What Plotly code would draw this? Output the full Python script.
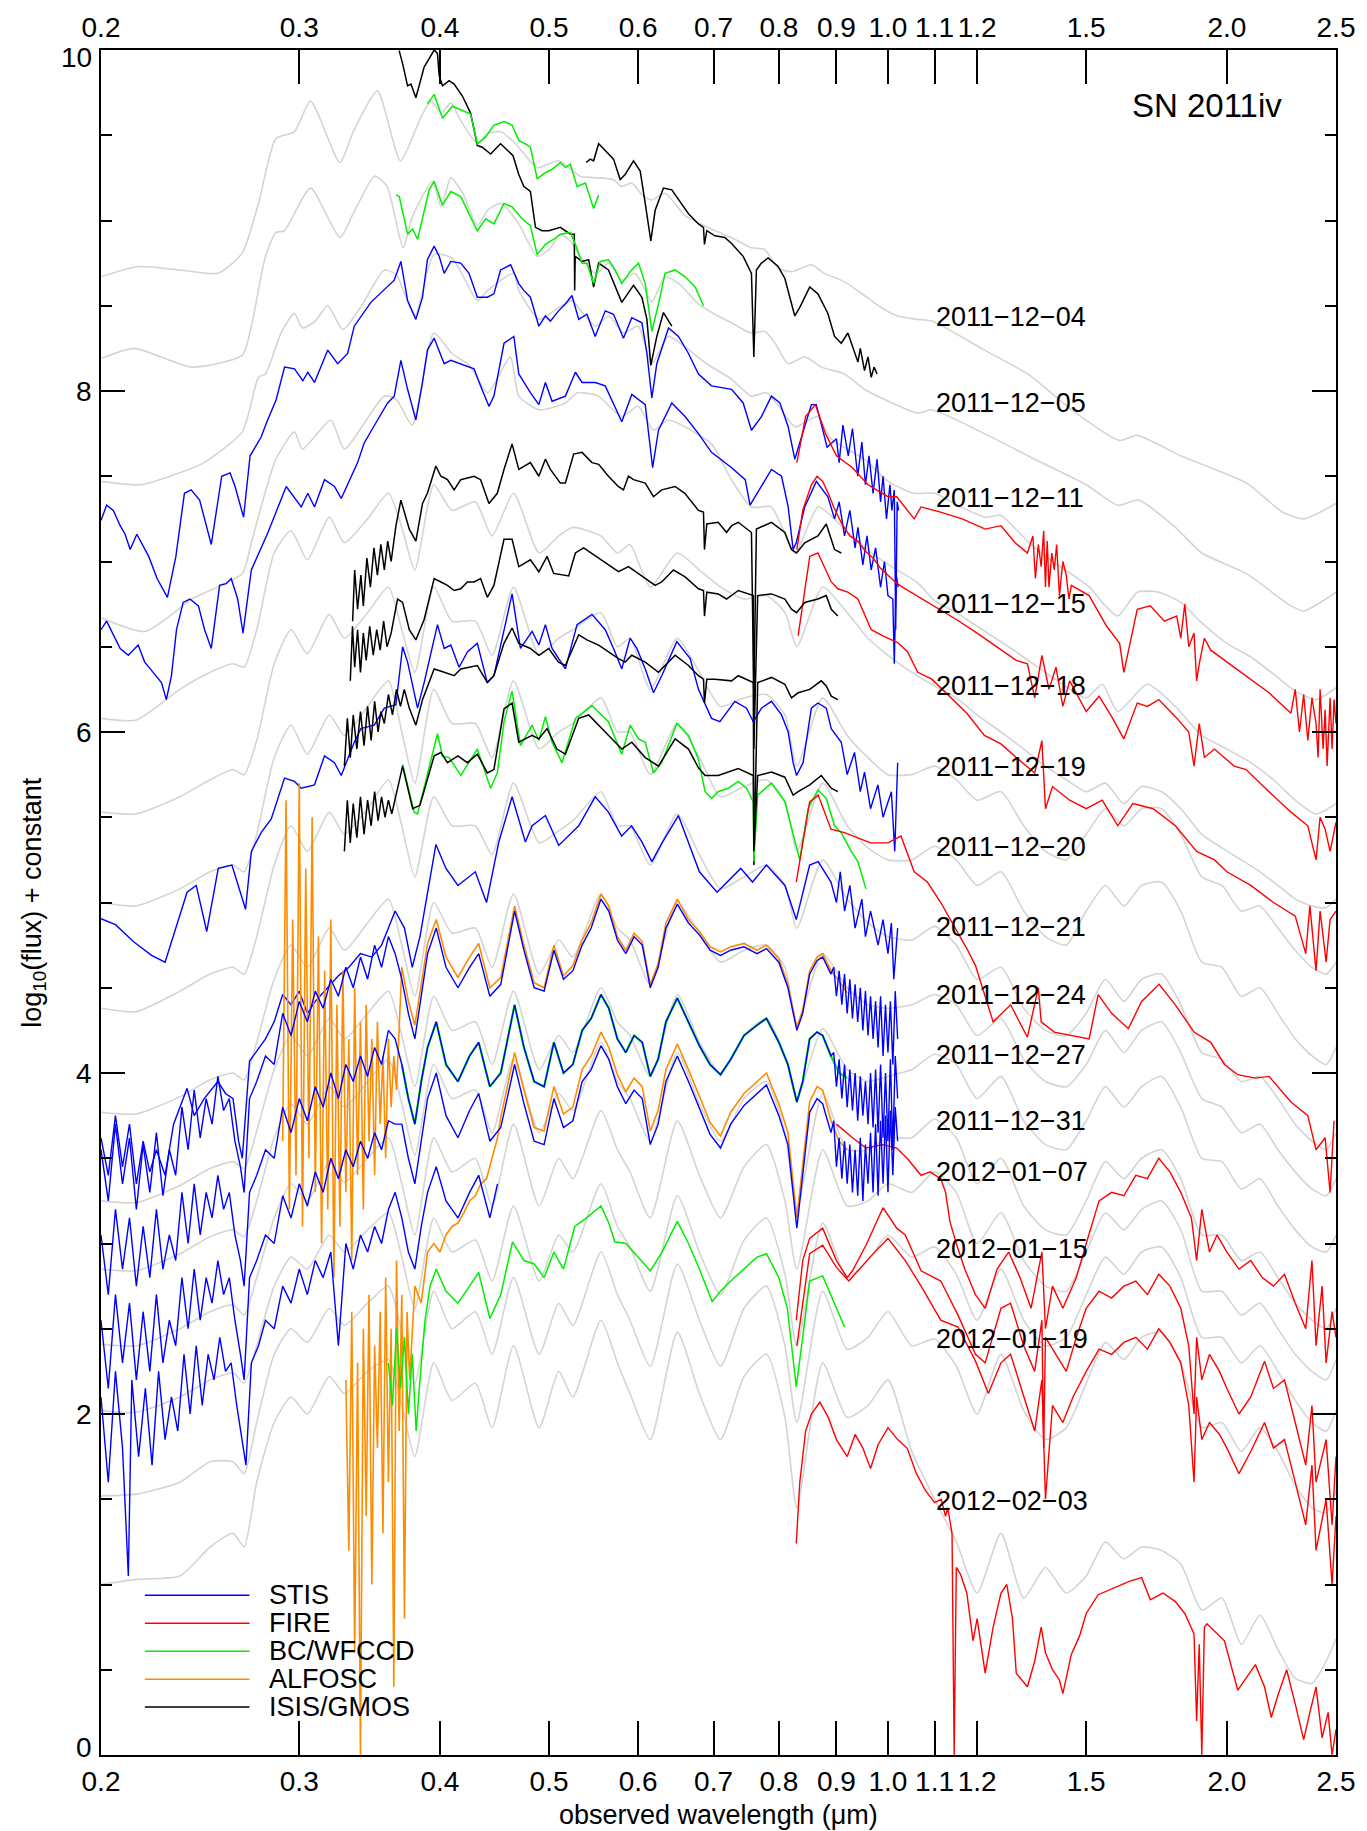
import math
import plotly.graph_objects as go

# ---------------- axis / label data ----------------
X_TICKS = [0.2, 0.3, 0.4, 0.5, 0.6, 0.7, 0.8, 0.9, 1.0, 1.1, 1.2, 1.5, 2.0, 2.5]
X_TICKTEXT = ['0.2', '0.3', '0.4', '0.5', '0.6', '0.7', '0.8', '0.9', '1.0', '1.1', '1.2', '1.5', '2.0', '2.5']
Y_TICKS = [0, 2, 4, 6, 8, 10]
Y_TICKTEXT = ['0', '2', '4', '6', '8', '10']
DATES = ['2011\u221212\u221204', '2011\u221212\u221205', '2011\u221212\u221211', '2011\u221212\u221215',
         '2011\u221212\u221218', '2011\u221212\u221219', '2011\u221212\u221220', '2011\u221212\u221221',
         '2011\u221212\u221224', '2011\u221212\u221227', '2011\u221212\u221231', '2012\u221201\u221207',
         '2012\u221201\u221215', '2012\u221201\u221219', '2012\u221202\u221203']
DATE_Y = [8.435, 7.93, 7.372, 6.748, 6.27, 5.792, 5.324, 4.856, 4.457, 4.106, 3.72, 3.42, 2.97, 2.438, 1.492]
DATE_X = 1.099
INSTRUMENTS = ['STIS', 'FIRE', 'BC/WFCCD', 'ALFOSC', 'ISIS/GMOS']

# ---------------- model spectra (gray) ----------------
M1_WL = [0.200,0.216,0.235,0.254,0.267,0.276,0.286,0.297,0.307,0.326,0.335,0.352,0.369,0.385,0.393,0.401,0.409,0.417,0.432,0.441,0.453,0.467,0.488,0.510,0.533,0.553,0.570,0.580,0.592,0.605,0.617,0.634,0.660,0.697,0.726,0.756,0.777,0.799,0.821,0.855,0.878,0.915,0.953,0.986,1.02,1.063,1.094,1.218,1.331,1.456,1.606,1.665,1.82,2.083,2.24,2.34,2.5]
M1_V = [8.67,8.73,8.71,8.69,8.81,9.10,9.48,9.52,9.70,9.34,9.52,9.76,9.35,9.61,9.70,9.63,9.69,9.59,9.45,9.51,9.52,9.45,9.31,9.35,9.26,9.25,9.24,9.20,9.22,9.15,9.12,9.16,9.03,8.95,8.90,8.84,8.83,8.72,8.70,8.74,8.69,8.64,8.56,8.49,8.44,8.42,8.41,8.24,8.10,7.89,7.71,7.74,7.62,7.46,7.29,7.25,7.34]

M2_WL = [0.200,0.214,0.241,0.267,0.272,0.280,0.286,0.291,0.307,0.326,0.335,0.350,0.359,0.371,0.378,0.394,0.401,0.409,0.419,0.432,0.441,0.453,0.470,0.488,0.500,0.512,0.522,0.533,0.550,0.565,0.580,0.596,0.609,0.617,0.634,0.652,0.679,0.702,0.726,0.756,0.777,0.794,0.815,0.844,0.873,0.915,0.953,0.993,1.063,1.094,1.218,1.35,1.50,1.60,1.67,1.80,1.90,2.08,2.28,2.34,2.5]
M2_V = [8.19,8.25,8.14,8.21,8.38,8.79,8.93,8.94,9.19,8.90,9.04,9.26,9.20,8.84,9.02,9.23,9.08,9.25,9.16,8.97,9.06,9.10,8.98,8.79,8.83,8.92,8.88,8.79,8.69,8.75,8.65,8.69,8.59,8.52,8.67,8.63,8.51,8.45,8.40,8.34,8.35,8.28,8.16,8.20,8.14,8.10,8.01,7.95,7.87,7.89,7.75,7.60,7.45,7.33,7.36,7.20,7.05,6.93,6.74,6.71,6.82]

M3_WL = [0.200,0.217,0.235,0.247,0.267,0.276,0.280,0.289,0.297,0.302,0.310,0.318,0.328,0.340,0.357,0.366,0.380,0.395,0.410,0.432,0.441,0.465,0.470,0.490,0.510,0.524,0.535,0.550,0.565,0.582,0.600,0.617,0.638,0.660,0.690,0.726,0.756,0.780,0.804,0.827,0.866,0.890,0.953,1.0,1.055,1.10,1.16,1.22,1.26,1.33,1.40,1.46,1.51,1.56,1.60,1.665,1.74,1.82,1.90,2.0,2.1,2.2,2.3,2.4,2.5]
M3_V = [7.47,7.45,7.52,7.58,7.76,8.08,8.10,8.34,8.455,8.37,8.41,8.50,8.36,8.49,8.71,8.68,8.44,8.80,8.78,8.53,8.59,8.69,8.59,8.42,8.49,8.53,8.46,8.38,8.44,8.34,8.38,8.16,8.32,8.26,8.16,8.07,7.97,7.99,7.89,7.79,7.85,7.72,7.60,7.47,7.40,7.40,7.32,7.26,7.27,7.12,7.00,6.92,6.85,6.74,6.68,6.82,6.82,6.76,6.64,6.52,6.44,6.34,6.24,6.19,6.26]

M4_WL = [0.200,0.219,0.241,0.267,0.272,0.278,0.286,0.297,0.302,0.320,0.329,0.357,0.366,0.378,0.395,0.410,0.425,0.441,0.462,0.470,0.490,0.517,0.530,0.553,0.580,0.600,0.619,0.638,0.660,0.697,0.726,0.756,0.788,0.827,0.867,0.928,0.966,1.007,1.063,1.10,1.15,1.20,1.30,1.40,1.50,1.55,1.60,1.70,1.80,1.90,2.00,2.10,2.20,2.30,2.40,2.50]
M4_V = [6.67,6.59,6.78,6.93,7.11,7.34,7.60,7.76,7.66,7.83,7.66,7.97,7.95,7.80,8.34,8.22,8.15,7.99,8.20,7.97,7.89,7.93,7.99,7.97,7.85,7.91,7.77,7.83,7.79,7.69,7.48,7.32,7.32,7.05,7.32,7.15,7.05,6.97,6.875,6.77,6.70,6.62,6.47,6.32,6.20,6.28,6.12,6.28,6.15,5.98,5.90,5.82,5.72,5.60,5.52,5.58]

CG2 = [0.20,0.215,0.235,0.25,0.262,0.268,0.275,0.285,0.295,0.305,
       0.319,0.329,0.345,0.36,0.37,0.38,0.395,0.41,0.43,0.445,
       0.465,0.49,0.51,0.525,0.556,0.575,0.59,0.615,0.65,0.68,
       0.71,0.745,0.78,0.81,0.83,0.875,0.92,0.96,1.0,1.05,
       1.1,1.15,1.2,1.26,1.32,1.38,1.44,1.5,1.56,1.62,
       1.68,1.75,1.82,1.9,1.98,2.06,2.14,2.22,2.3,2.38,
       2.45,2.5]
M5_V = [6.08,6.07,6.25,6.35,6.40,6.38,6.60,7.05,7.18,7.01, 7.26,7.11,7.25,7.40,7.20,6.95,7.45,7.30,7.35,7.15,
        7.40,7.05,7.15,7.20,7.15,7.05,7.10,6.85,7.05,6.95, 6.85,6.78,6.80,6.70,6.50,6.85,6.70,6.55,6.45,6.35,
        6.27,6.20,6.10,6.00,5.90,5.80,5.72,5.65,5.70,5.58, 5.68,5.65,5.55,5.40,5.32,5.25,5.18,5.10,5.02,4.98, 4.97,5.02]
M6_V = [5.53,5.52,5.62,5.72,5.78,5.75,5.95,6.40,6.60,6.46, 6.69,6.55,6.70,6.85,6.60,6.35,6.85,6.65,6.65,6.45,
        6.85,6.45,6.55,6.60,6.70,6.50,6.55,6.25,6.55,6.35, 6.15,6.20,6.22,6.10,5.80,6.20,5.98,5.85,5.75,5.75,
        5.80,5.72,5.60,5.65,5.45,5.30,5.25,5.40,5.55,5.45, 5.55,5.55,5.40,5.15,5.10,4.95,4.98,4.85,4.72,4.62, 4.58,4.65]
M7_V = [5.00,4.98,5.08,5.18,5.22,5.18,5.40,5.85,6.04,5.87, 6.10,5.98,6.15,6.30,6.00,5.70,6.25,6.05,6.05,5.85,
        6.30,5.90,6.00,6.05,6.20,6.00,6.00,5.75,6.05,5.85, 5.62,5.68,5.72,5.60,5.30,5.70,5.45,5.32,5.25,5.25,
        5.33,5.25,5.10,5.18,4.95,4.80,4.75,4.95,5.10,4.98, 5.10,5.12,4.95,4.65,4.62,4.45,4.50,4.35,4.20,4.10, 4.05,4.15]
M8_V = [4.38,4.36,4.48,4.58,4.62,4.58,4.80,5.22,5.45,5.30, 5.53,5.40,5.55,5.72,5.45,5.15,5.62,5.45,5.45,5.28,
        5.70,5.35,5.42,5.48,5.65,5.45,5.45,5.22,5.52,5.28, 5.08,5.15,5.22,5.10,4.85,5.25,5.02,4.88,4.80,4.78,
        4.86,4.75,4.55,4.62,4.38,4.25,4.22,4.35,4.55,4.42, 4.55,4.58,4.40,4.12,4.08,3.95,3.98,3.85,3.70,3.60, 3.55,3.65]
M9_V = [3.77,3.76,3.86,3.96,4.00,3.96,4.18,4.55,4.75,4.62, 4.85,4.72,4.88,5.02,4.75,4.45,5.00,4.82,4.85,4.62,
        5.05,4.58,4.78,4.68,5.05,4.85,4.78,4.52,5.00,4.82, 4.65,4.72,4.75,4.62,4.28,4.70,4.50,4.40,4.38,4.40,
        4.46,4.40,4.22,4.32,4.08,3.95,3.92,4.05,4.25,4.12, 4.25,4.30,4.12,3.85,3.80,3.65,3.70,3.55,3.42,3.32, 3.28,3.38]
M10_V = [3.25,3.24,3.34,3.44,3.48,3.44,3.66,4.02,4.22,4.10, 4.32,4.20,4.35,4.48,4.22,3.92,4.45,4.25,4.30,4.05,
         4.48,4.02,4.22,4.12,4.50,4.30,4.22,3.98,4.46,4.18, 4.00,4.22,4.32,4.10,3.85,4.26,4.02,3.95,3.98,4.02,
         4.11,4.05,3.85,3.98,3.72,3.58,3.55,3.72,3.92,3.80, 3.92,3.98,3.80,3.50,3.48,3.32,3.38,3.22,3.08,2.98, 2.95,3.05]
M11_V = [2.85,2.84,2.94,3.04,3.08,3.04,3.25,3.62,3.82,3.70, 3.92,3.80,3.95,4.08,3.82,3.52,4.05,3.85,3.90,3.65,
         4.08,3.65,3.88,3.78,4.18,3.95,3.85,3.60,4.12,3.82, 3.60,3.85,3.95,3.65,3.20,3.88,3.55,3.55,3.62,3.62,
         3.73,3.62,3.35,3.50,3.22,3.08,3.05,3.25,3.48,3.38, 3.50,3.55,3.38,3.05,3.05,2.90,2.95,2.80,2.65,2.55, 2.50,2.62]
M12_V = [2.41,2.40,2.50,2.60,2.64,2.58,2.80,3.15,3.35,3.25, 3.48,3.36,3.50,3.62,3.35,3.05,3.62,3.42,3.50,3.22,
         3.70,3.22,3.50,3.38,3.78,3.55,3.42,3.15,3.72,3.40, 3.15,3.45,3.58,3.25,2.85,3.55,3.22,3.25,3.35,3.30,
         3.42,3.30,3.00,3.18,2.90,2.75,2.72,2.95,3.18,3.08, 3.20,3.25,3.08,2.72,2.72,2.58,2.65,2.50,2.35,2.25, 2.20,2.32]
M13_V = [2.02,2.01,2.10,2.20,2.24,2.18,2.40,2.75,2.92,2.85, 3.05,2.95,3.08,3.18,2.92,2.62,3.15,2.95,3.02,2.78,
         3.22,2.78,3.05,2.95,3.35,3.10,2.98,2.72,3.28,2.95, 2.70,3.02,3.15,2.82,2.40,3.12,2.80,2.90,3.05,2.92,
         2.98,2.82,2.55,2.85,2.55,2.40,2.45,2.70,2.92,2.82, 2.95,2.98,2.80,2.45,2.45,2.30,2.40,2.25,2.08,1.95, 1.90,2.02]
M14_V = [1.52,1.53,1.60,1.72,1.72,1.65,1.95,2.35,2.50,2.42, 2.62,2.52,2.65,2.75,2.48,2.18,2.72,2.50,2.60,2.35,
         2.80,2.35,2.65,2.52,2.95,2.70,2.55,2.28,2.88,2.55, 2.28,2.62,2.75,2.40,1.95,2.72,2.38,2.45,2.60,2.40,
         2.44,2.28,2.00,2.35,2.02,1.85,1.92,2.18,2.42,2.32, 2.45,2.48,2.30,1.92,1.95,1.78,1.92,1.78,1.58,1.45, 1.42,1.55]
M15_V = [1.00,1.03,1.05,1.22,1.30,1.22,1.60,1.95,2.10,2.00, 2.22,2.12,2.25,2.32,2.05,1.75,2.30,2.08,2.18,1.92,
         2.40,1.92,2.25,2.10,2.55,2.30,2.12,1.85,2.48,2.12, 1.85,2.22,2.35,1.98,1.45,2.30,1.98,2.05,2.20,1.78,
         1.50,1.25,0.95,1.30,0.92,1.10,0.95,1.05,1.25,1.15, 1.22,1.20,1.12,0.85,0.92,0.65,0.82,0.62,0.45,0.42, 0.55,0.68]

# ---------------- observed spectra ----------------
ISIS1_WL = [0.368,0.3706,0.3744,0.377,0.3808,0.3873,0.3913,0.3953,0.398,0.3994,0.4021,0.4076,0.4118,0.4188,0.4259,0.4318,0.4362,0.4437,0.4528,0.4645,0.470,0.4748,0.4813,0.4863,0.4930,0.4997,0.5117,0.5223,0.5265,0.5269,0.5275,0.5349,0.5422,0.5477,0.5534,0.5646,0.5802,0.5943,0.6046,0.6108,0.6157,0.6233,0.6318,0.6427]
ISIS1_V = [9.996,9.92,9.79,9.80,9.72,9.90,9.95,10.0,9.98,9.85,9.79,9.82,9.80,9.73,9.63,9.44,9.43,9.39,9.45,9.38,9.27,9.20,9.17,8.96,8.94,8.94,8.96,8.92,8.92,8.59,8.79,8.76,8.77,8.61,8.75,8.71,8.52,8.62,8.55,8.42,8.15,8.32,8.46,8.38]

ISIS2_WL = [0.5393,0.5440,0.5477,0.5534,0.5609,0.5705,0.5783,0.5842,0.5943,0.6025,0.6087,0.6157,0.6212,0.6318,0.6427,0.6650,0.6787,0.6857,0.6871,0.6904,0.7019,0.7164,0.7263,0.7437,0.7564,0.7601,0.7641,0.7720,0.7826,0.7989,0.8099,0.8265,0.8350,0.8522,0.8665,0.8844,0.8965,0.9089,0.9213,0.9307,0.9404,0.9450,0.9532,0.9600,0.9663,0.9720,0.978]
ISIS2_V = [9.34,9.36,9.35,9.45,9.41,9.36,9.24,9.27,9.35,9.29,9.10,8.88,9.06,9.19,9.18,9.04,8.98,8.96,8.86,8.94,8.91,8.90,8.865,8.79,8.69,8.20,8.71,8.75,8.78,8.73,8.66,8.44,8.49,8.61,8.57,8.455,8.32,8.28,8.34,8.26,8.17,8.25,8.12,8.20,8.08,8.14,8.10]

BC1_WL = [0.3899,0.3953,0.4021,0.4104,0.4188,0.4259,0.4318,0.4392,0.4467,0.4560,0.4636,0.4700,0.4764,0.4813,0.4880,0.4963,0.5031,0.5117,0.5170,0.5223,0.5295,0.5386,0.5477,0.5534]
BC1_V = [9.684,9.74,9.60,9.67,9.645,9.625,9.45,9.49,9.56,9.58,9.56,9.47,9.45,9.43,9.245,9.28,9.30,9.34,9.31,9.33,9.20,9.22,9.07,9.15]

BC2_WL = [0.3656,0.3681,0.3744,0.3783,0.3821,0.3860,0.3913,0.3953,0.4021,0.4090,0.4174,0.4245,0.4318,0.4392,0.4467,0.4560,0.4636,0.4732,0.4813,0.4880,0.4963,0.5048,0.5117,0.5223,0.5277,0.5349,0.5403,0.5477,0.5552,0.5646,0.5724,0.5802,0.5902,0.6004,0.6087,0.6170,0.6254,0.6339,0.6471,0.6604,0.6741,0.6857]
BC2_V = [9.15,9.14,8.92,8.95,8.89,9.02,9.18,9.23,9.09,9.17,9.14,9.04,8.94,9.01,8.98,9.10,9.08,9.01,8.97,8.80,8.86,8.89,8.92,8.93,8.86,8.75,8.75,8.63,8.76,8.77,8.71,8.63,8.70,8.75,8.63,8.35,8.51,8.69,8.71,8.67,8.61,8.50]

STIS1_WL = [0.200,0.2023,0.2051,0.208,0.2101,0.2123,0.2152,0.2205,0.2243,0.2291,0.2331,0.2372,0.2405,0.2447,0.2506,0.256,0.2604,0.2631,0.2677,0.2713,0.2775,0.2804,0.2862,0.2911,0.2971,0.3022,0.3053,0.3095,0.318,0.3245,0.3312,0.3357,0.3473,0.3594,0.3643,0.3693,0.3744,0.3808,0.386,0.3899,0.3953,0.3994,0.4035,0.409,0.4174,0.4245,0.4318,0.4407,0.4467,0.4528,0.4622,0.470,0.4748,0.4813,0.4897,0.4963,0.5014,0.5098,0.517,0.524,0.5313,0.5403,0.5495,0.5609,0.5705,0.5822,0.5922,0.6046,0.6108,0.617,0.6233,0.6384,0.6515,0.665,0.6787,0.6971,0.7263,0.7437,0.7564,0.772,0.788,0.8017,0.8154,0.8265,0.8400,0.855,0.8637,0.883,0.900,0.905,0.912,0.922,0.930,0.940,0.948,0.955,0.962,0.970,0.978,0.985,0.99,0.997,1.004,1.008,1.013,1.016,1.019,1.022]
STIS1_V = [7.24,7.33,7.30,7.21,7.16,7.07,7.16,7.03,6.90,6.79,7.03,7.40,7.42,7.36,7.10,7.50,7.52,7.44,7.26,7.62,7.73,7.81,7.95,8.14,8.13,8.06,8.11,8.05,8.24,8.16,8.22,8.38,8.52,8.61,8.65,8.76,8.53,8.42,8.55,8.77,8.85,8.79,8.69,8.76,8.75,8.69,8.55,8.55,8.57,8.71,8.74,8.63,8.59,8.55,8.38,8.44,8.41,8.47,8.51,8.56,8.42,8.45,8.32,8.47,8.45,8.31,8.43,8.40,8.22,7.96,8.16,8.37,8.32,8.22,8.10,8.03,8.01,7.93,7.77,7.85,7.97,7.93,7.79,7.60,7.75,7.92,7.92,7.67,7.72,7.58,7.80,7.62,7.78,7.50,7.70,7.45,7.62,7.40,7.60,7.35,7.50,7.25,7.45,7.30,7.42,6.60,7.35,7.30]

STIS2_WL = [0.200,0.2023,0.208,0.2115,0.2158,0.2187,0.2225,0.2263,0.2286,0.231,0.2334,0.2366,0.2399,0.2441,0.2472,0.2506,0.2549,0.2583,0.261,0.2645,0.2674,0.272,0.2814,0.2921,0.3012,0.3053,0.3095,0.3159,0.3224,0.3269,0.338,0.3426,0.3521,0.3594,0.3643,0.3693,0.3744,0.3808,0.386,0.3899,0.3953,0.4035,0.409,0.4174,0.4289,0.4347,0.4422,0.4467,0.456,0.4653,0.470,0.4813,0.4897,0.4963,0.5031,0.517,0.5277,0.5349,0.5495,0.5609,0.5802,0.5922,0.6087,0.618,0.6254,0.6427,0.6604,0.6787,0.6971,0.7263,0.7468,0.7543,0.772,0.788,0.8044,0.8154,0.8237,0.829,0.8435,0.8637,0.8844,0.8965,0.905,0.915,0.925,0.935,0.9404,0.950,0.958,0.9663,0.975,0.985,0.9929,1.000,1.01,1.013,1.017,1.021]
STIS2_V = [6.60,6.65,6.49,6.45,6.51,6.41,6.35,6.29,6.19,6.33,6.60,6.76,6.78,6.74,6.60,6.49,6.86,6.87,6.90,6.78,6.58,6.95,7.17,7.44,7.32,7.40,7.32,7.48,7.44,7.37,7.58,7.695,7.83,7.93,7.97,8.18,8.01,7.83,8.05,8.24,8.31,8.16,8.18,8.16,8.13,8.03,7.91,7.97,8.28,8.32,8.10,7.99,7.92,8.05,7.94,7.97,8.11,8.05,8.05,8.03,7.82,7.98,7.92,7.55,7.77,7.93,7.85,7.75,7.64,7.55,7.48,7.33,7.44,7.54,7.50,7.32,7.07,7.11,7.32,7.47,7.38,7.25,7.35,7.15,7.30,7.08,7.20,6.98,7.15,6.95,7.08,6.85,7.00,6.80,6.78,6.40,6.92,6.85]

FIRE1_WL = [0.830,0.845,0.862,0.880,0.900,0.930,0.960,1.000,1.018,1.055,1.070,1.1135,1.164,1.220,1.260,1.297,1.330,1.345,1.352,1.36,1.368,1.375,1.380,1.385,1.390,1.398,1.405,1.412,1.420,1.43,1.440,1.448,1.455,1.509,1.564,1.606,1.620,1.665,1.710,1.760,1.805,1.82,1.835,1.85,1.870,1.88,1.890,1.91,1.935,2.000,2.080,2.180,2.280,2.30,2.320,2.34,2.360,2.38,2.400,2.41,2.420,2.435,2.445,2.455,2.470,2.48,2.490,2.5]
FIRE1_V = [7.58,7.85,7.92,7.75,7.62,7.55,7.45,7.38,7.38,7.25,7.32,7.29,7.25,7.19,7.21,7.11,7.05,7.15,6.90,7.10,6.97,7.18,6.85,7.12,6.85,7.05,6.95,7.10,6.80,7.0,6.92,6.78,6.86,6.80,6.62,6.52,6.35,6.72,6.74,6.65,6.68,6.55,6.75,6.50,6.58,6.30,6.40,6.55,6.48,6.41,6.33,6.23,6.11,6.25,6.00,6.22,5.95,6.20,6.05,5.85,6.25,5.90,6.13,5.80,6.20,5.90,6.19,6.05]

FIREB_WL = [0.83,0.84,0.855,0.865,0.875,0.885,0.895,0.91,0.925,0.94,0.955,0.97,0.985,1.0,1.015,1.03,1.06,1.1,1.15,1.2,1.25,1.3,1.33,1.35,1.37,1.39,1.41,1.43,1.45,1.5,1.54,1.58,1.62,1.665,1.70,1.74,1.80,1.85,1.87,1.89,1.91,1.95,2.03,2.08,2.18,2.28,2.36,2.40,2.42,2.445,2.47,2.5]
FIREB_V = [7.07,7.30,7.45,7.50,7.47,7.40,7.32,7.22,7.15,7.12,7.06,7.02,6.96,6.92,6.88,6.85,6.80,6.74,6.66,6.58,6.50,6.42,6.40,6.20,6.45,6.25,6.38,6.15,6.30,6.12,6.21,6.09,5.96,6.17,6.15,6.19,6.09,6.00,5.80,6.05,5.85,5.90,5.80,5.78,5.65,5.53,5.45,5.25,5.50,5.43,5.30,5.47]

FIRE2_WL = [0.8322,0.8522,0.8665,0.8905,0.9025,0.9213,0.9404,0.9663,0.9929,1.02,1.0411,1.0627,1.094,1.135,1.175,1.218,1.26,1.30,1.35,1.37,1.38,1.40,1.45,1.50,1.55,1.60,1.65,1.72,1.80,1.88,1.95,2.0,2.1,2.2,2.3,2.35,2.37,2.4,2.42,2.45,2.47,2.5]
FIRE2_V = [6.565,7.03,7.05,6.88,6.84,6.82,6.78,6.60,6.56,6.525,6.47,6.35,6.31,6.21,6.11,5.98,5.93,5.85,5.76,5.95,5.55,5.68,5.60,5.55,5.60,5.45,5.58,5.55,5.45,5.30,5.25,5.18,5.10,5.00,4.92,4.70,4.98,4.60,4.95,4.65,4.90,4.95]

FIRE3_WL = [0.829,0.852,0.867,0.89,0.915,0.94,0.965,1.0,1.027,1.055,1.084,1.114,1.135,1.175,1.196,1.218,1.24,1.285,1.33,1.36,1.368,1.405,1.455,1.509,1.537,1.58,1.635,1.68,1.741,1.80,1.87,1.935,1.99,2.045,2.12,2.18,2.28,2.36,2.40,2.445,2.47,2.49]
FIRE3_V = [5.12,5.59,5.63,5.43,5.41,5.38,5.35,5.35,5.39,5.18,5.12,5.00,4.905,4.73,4.63,4.46,4.30,4.40,4.21,4.50,4.30,4.24,4.22,4.20,4.46,4.35,4.26,4.42,4.52,4.40,4.24,4.18,4.05,3.99,3.97,3.98,3.83,3.75,3.55,3.62,3.30,3.72]

FIRE4_PTS = [[0.90,3.70],[0.93,3.62],[0.956,3.56],[0.99,3.58],[1.018,3.56],[1.04,3.50],[1.07,3.40],[1.09,3.42],[1.114,3.38],[1.125,3.30],[1.135,3.13],[1.15,3.00],[1.17,2.85],[1.196,2.70],[1.22,2.62],[1.25,2.85],[1.28,2.95],[1.31,2.80],[1.34,2.62],[1.37,2.95],[1.38,2.50],[1.40,2.75],[1.43,2.62],[1.47,2.80],[1.50,3.00],[1.54,3.25],[1.58,3.30],[1.62,3.28],[1.66,3.40],[1.70,3.38],[1.74,3.50],[1.78,3.42],[1.82,3.30],[1.86,3.15],[1.88,2.90],[1.90,3.20],[1.93,2.95],[1.96,3.05],[2.0,2.95],[2.05,2.85],[2.10,2.90],[2.15,2.80],[2.2,2.75],[2.25,2.82],[2.3,2.65],[2.35,2.50],[2.38,2.90],[2.4,2.40],[2.43,2.75],[2.45,2.30],[2.48,2.60],[2.5,2.45]]
FIRE5_PTS = [[0.829,2.55],[0.84,2.90],[0.852,3.03],[0.875,3.09],[0.90,2.90],[0.92,2.80],[0.93,2.84],[0.956,2.99],[0.99,3.21],[1.018,3.09],[1.036,3.05],[1.07,2.84],[1.114,2.78],[1.154,2.58],[1.196,2.35],[1.22,2.30],[1.26,2.62],[1.285,2.65],[1.32,2.40],[1.35,2.25],[1.37,2.55],[1.375,1.80],[1.38,2.45],[1.41,2.35],[1.44,2.25],[1.47,2.45],[1.50,2.62],[1.54,2.72],[1.58,2.68],[1.62,2.75],[1.66,2.78],[1.70,2.70],[1.74,2.82],[1.78,2.75],[1.82,2.62],[1.85,2.40],[1.87,2.00],[1.88,2.45],[1.90,2.20],[1.93,2.35],[1.97,2.25],[2.0,2.15],[2.05,2.00],[2.10,2.10],[2.16,2.31],[2.2,2.15],[2.25,2.20],[2.3,1.95],[2.35,1.70],[2.38,2.05],[2.4,1.60],[2.45,1.85],[2.48,1.35],[2.5,1.75]]
FIRE6_PTS = [[0.83,2.40],[0.852,2.94],[0.875,2.99],[0.90,2.86],[0.923,2.78],[0.964,2.92],[1.0,3.03],[1.036,2.90],[1.07,2.75],[1.114,2.55],[1.154,2.51],[1.196,2.31],[1.228,2.12],[1.26,2.30],[1.285,2.35],[1.32,2.10],[1.35,1.90],[1.37,2.20],[1.38,1.50],[1.40,2.05],[1.43,1.95],[1.46,2.10],[1.50,2.25],[1.54,2.38],[1.58,2.35],[1.62,2.42],[1.66,2.45],[1.70,2.38],[1.74,2.50],[1.78,2.42],[1.82,2.30],[1.85,2.05],[1.87,1.60],[1.88,2.10],[1.90,1.85],[1.93,1.95],[1.97,1.88],[2.0,1.80],[2.05,1.65],[2.10,1.78],[2.16,1.95],[2.2,1.80],[2.25,1.85],[2.3,1.60],[2.35,1.35],[2.38,1.70],[2.4,1.20],[2.45,1.50],[2.48,1.00],[2.5,1.40]]
FIRE7_PTS = [[0.829,1.24],[0.835,1.60],[0.845,1.90],[0.855,2.00],[0.87,2.07],[0.885,1.98],[0.90,1.85],[0.92,1.75],[0.935,1.88],[0.95,1.80],[0.965,1.68],[0.98,1.82],[1.0,1.92],[1.02,1.85],[1.04,1.80],[1.06,1.65],[1.08,1.55],[1.10,1.48],[1.115,1.50],[1.125,1.40],[1.13,1.45],[1.14,1.30],[1.145,0.0],[1.15,1.10],[1.16,1.06],[1.175,0.95],[1.19,0.67],[1.20,0.80],[1.22,0.48],[1.24,0.75],[1.26,0.95],[1.275,1.00],[1.29,0.80],[1.30,0.48],[1.33,0.40],[1.35,0.55],[1.368,0.75],[1.38,0.60],[1.40,0.50],[1.42,0.44],[1.43,0.36],[1.455,0.59],[1.48,0.70],[1.50,0.83],[1.537,0.94],[1.59,0.98],[1.64,1.02],[1.68,1.04],[1.71,0.91],[1.755,0.95],[1.80,0.90],[1.835,0.83],[1.87,0.71],[1.88,0.20],[1.89,0.65],[1.90,0.0],[1.91,0.75],[1.92,0.77],[1.99,0.67],[2.045,0.38],[2.08,0.45],[2.12,0.53],[2.16,0.40],[2.19,0.22],[2.22,0.35],[2.26,0.50],[2.30,0.30],[2.34,0.09],[2.37,0.25],[2.40,0.40],[2.43,0.10],[2.46,0.25],[2.48,0.0],[2.5,0.15]]

ISIS3_WL = [0.3346,0.336,0.338,0.3403,0.342,0.3445,0.347,0.3495,0.352,0.3545,0.357,0.3595,0.362,0.3656,0.3693,0.3757,0.3808,0.386,0.3899,0.3967,0.4008,0.4062,0.4118,0.4174,0.4289,0.4347,0.4422,0.4498,0.456,0.4636,0.470,0.4813,0.4897,0.4963,0.5014,0.5117,0.517,0.5258,0.5349,0.5459,0.5534,0.5646,0.576,0.5822,0.5882,0.5943,0.6087,0.6191,0.6296,0.6471,0.660,0.6787,0.6857,0.6871,0.6904,0.7067,0.7188,0.7263,0.7363,0.7564,0.7601,0.7641,0.788,0.8099,0.8209,0.8295,0.8435,0.8665,0.8815,0.8965,0.9089]
ISIS3_V = [6.65,6.95,6.72,6.92,6.74,7.02,6.85,7.08,6.92,7.10,6.95,7.12,7.00,7.21,7.36,7.19,7.12,7.34,7.40,7.56,7.50,7.48,7.42,7.48,7.50,7.48,7.34,7.40,7.54,7.69,7.54,7.58,7.50,7.60,7.54,7.46,7.46,7.63,7.64,7.58,7.57,7.50,7.44,7.42,7.50,7.48,7.46,7.38,7.42,7.44,7.40,7.30,7.29,7.07,7.22,7.23,7.17,7.21,7.23,7.17,6.20,7.19,7.23,7.17,7.07,7.05,7.11,7.15,7.22,7.07,7.05]

ISIS4_WL = [0.333,0.3345,0.336,0.338,0.340,0.342,0.344,0.3465,0.349,0.3515,0.354,0.3565,0.359,0.362,0.3668,0.3706,0.3757,0.3808,0.3873,0.3953,0.4008,0.4062,0.4118,0.4174,0.4231,0.4289,0.4347,0.4407,0.4467,0.4560,0.4636,0.470,0.4813,0.4897,0.4980,0.5048,0.5205,0.5277,0.5367,0.5534,0.5763,0.5882,0.6046,0.6212,0.6296,0.6449,0.6604,0.6787,0.6857,0.6871,0.6904,0.7067,0.7188,0.7363,0.7593,0.7601,0.7661,0.788,0.8099,0.8209,0.8295,0.8435,0.8665,0.8815,0.8905,0.9025]
ISIS4_V = [6.30,6.62,6.38,6.60,6.35,6.58,6.42,6.62,6.45,6.60,6.48,6.65,6.50,6.58,6.78,6.76,6.60,6.54,6.66,6.90,6.88,6.86,6.83,6.84,6.88,6.88,6.90,6.79,6.86,7.13,7.13,6.97,7.01,6.94,7.03,6.93,6.915,7.05,7.08,7.02,6.94,6.97,6.915,6.86,6.88,6.95,6.91,6.84,6.83,6.68,6.82,6.81,6.78,6.83,6.80,5.90,6.80,6.81,6.78,6.72,6.70,6.76,6.78,6.80,6.72,6.68]

STIS3_WL = [0.200,0.206,0.2138,0.2218,0.228,0.2385,0.243,0.2483,0.2542,0.2614,0.2688,0.272,0.2775,0.2833,0.2911,0.2971,0.3012,0.3095,0.3159,0.3224,0.3269,0.3357,0.3403,0.3497,0.357,0.3656,0.3706,0.3744,0.3821,0.3873,0.398,0.4035,0.409,0.416,0.4231,0.4318,0.4407,0.4467,0.4636,0.4716,0.483,0.4897,0.4963,0.5031,0.517,0.5295,0.5459,0.5609,0.5705,0.5802,0.5902,0.5984,0.6087,0.6191,0.6296,0.6493,0.6673,0.6787,0.6971,0.7091,0.7312,0.7488,0.7593,0.772,0.788,0.8044,0.8154,0.8237,0.8295,0.8406,0.855,0.8665,0.8815,0.8905,0.9089,0.920,0.9339,0.945,0.9532,0.965,0.9796,0.990,1.007,1.014,1.02]
STIS3_V = [4.905,4.87,4.77,4.69,4.65,5.06,5.10,4.83,5.20,5.22,4.96,5.30,5.41,5.49,5.73,5.71,5.67,5.69,5.86,5.82,5.745,5.94,6.02,6.04,6.14,6.16,6.50,6.41,6.14,6.29,6.63,6.49,6.51,6.38,6.47,6.52,6.29,6.33,6.81,6.49,6.59,6.51,6.63,6.49,6.37,6.63,6.69,6.60,6.49,6.37,6.55,6.49,6.37,6.23,6.33,6.53,6.43,6.25,6.08,6.06,6.18,6.14,6.06,6.14,6.18,6.10,6.00,5.82,5.745,5.82,6.14,6.17,6.14,6.02,5.94,5.75,5.88,5.65,5.765,5.55,5.69,5.50,5.65,5.30,5.82]

STIS4_PTS = [[0.200,3.62],[0.203,3.40],[0.206,3.75],[0.209,3.45],[0.212,3.70],[0.215,3.35],[0.218,3.60],[0.221,3.42],[0.224,3.55],[0.228,3.40],[0.232,3.70],[0.2385,3.91],[0.242,3.75],[0.247,3.85],[0.254,3.95],[0.258,3.88],[0.262,3.85],[0.265,3.60],[0.267,3.50],[0.271,4.07],[0.28,4.20],[0.285,4.30],[0.29,4.46],[0.295,4.40],[0.30,4.48],[0.305,4.35],[0.31,4.42],[0.318,4.50],[0.325,4.57],[0.332,4.62],[0.34,4.70],[0.348,4.68],[0.355,4.75],[0.36,4.85],[0.365,4.95],[0.372,4.85],[0.378,4.62],[0.384,4.80],[0.39,5.05],[0.3967,5.34],[0.405,5.20],[0.415,5.10],[0.43,5.18],[0.44,5.00],[0.4512,5.355],[0.4636,5.62],[0.4764,5.355],[0.483,5.45],[0.4963,5.51],[0.51,5.335],[0.5313,5.45],[0.5495,5.62],[0.5646,5.53],[0.58,5.39],[0.592,5.45],[0.6046,5.355],[0.617,5.24],[0.63,5.35],[0.6514,5.51],[0.665,5.35],[0.68,5.18],[0.705,5.06],[0.74,5.20],[0.758,5.12],[0.78,5.22],[0.81,5.10],[0.829,4.90],[0.852,5.22],[0.867,5.24],[0.89,5.12],[0.90,5.00],[0.907,5.18],[0.915,4.95],[0.925,5.10],[0.935,4.85],[0.948,5.02],[0.955,4.80],[0.965,4.95],[0.98,4.75],[0.99,4.90],[1.0,4.70],[1.007,4.88],[1.012,4.55],[1.02,4.85]]

# later optical clusters (12-24, 12-27, 12-31)
OL = [0.37,0.375,0.38,0.385,0.39,0.397,0.405,0.415,0.425,0.433,0.443,0.453,0.466,0.475,0.485,0.495,0.505,0.515,0.525,0.535,0.545,0.556,0.565,0.575,0.585,0.595,0.605,0.615,0.625,0.635,0.65,0.665,0.68,0.695,0.71,0.725,0.745,0.765,0.78,0.80,0.815,0.83,0.84,0.852,0.865,0.875,0.89,0.905,0.92,0.94,0.96,0.98,1.0,1.02]
V24 = [4.55,4.35,4.20,4.45,4.70,4.85,4.62,4.50,4.62,4.70,4.45,4.52,4.95,4.72,4.50,4.48,4.72,4.55,4.60,4.75,4.85,5.02,4.95,4.78,4.70,4.80,4.75,4.50,4.62,4.85,4.99,4.88,4.81,4.72,4.69,4.72,4.74,4.70,4.73,4.65,4.50,4.25,4.35,4.58,4.66,4.68,4.58,4.52,4.45,4.42,4.35,4.30,4.32,4.30]
V27 = [4.05,3.85,3.70,3.95,4.15,4.30,4.05,3.95,4.10,4.18,3.92,4.00,4.40,4.15,3.95,3.92,4.18,4.00,4.05,4.25,4.32,4.46,4.38,4.20,4.12,4.22,4.18,3.98,4.08,4.30,4.44,4.30,4.16,4.05,3.99,4.08,4.22,4.28,4.32,4.18,4.05,3.83,3.95,4.20,4.24,4.22,4.10,4.00,3.97,3.92,3.90,3.92,3.95,3.90]
V31 = [3.70,3.50,3.35,3.60,3.85,4.00,3.75,3.62,3.78,3.88,3.60,3.68,4.05,3.82,3.60,3.58,3.85,3.68,3.72,3.95,4.02,4.16,4.08,3.92,3.82,3.90,3.85,3.58,3.70,3.95,4.10,3.95,3.79,3.64,3.56,3.70,3.81,3.88,3.93,3.75,3.58,3.09,3.40,3.77,3.85,3.82,3.65,3.52,3.48,3.50,3.52,3.55,3.60,3.55]
A24 = [4.62,4.42,4.28,4.52,4.76,4.90,4.68,4.56,4.68,4.76,4.50,4.56,4.98,4.75,4.53,4.50,4.75,4.57,4.63,4.78,4.88,5.05,4.98,4.80,4.72,4.82,4.77,4.52,4.64,4.88,5.02,4.90,4.83,4.74,4.71,4.74,4.76,4.72,4.75,4.67,4.52,4.27,4.37,4.60,4.68,4.70,4.60,4.54,4.47]
A31 = [3.74,4.12,3.90,3.68,3.66,3.92,3.76,3.80,4.02,4.10,4.24,4.15,3.99,3.89,3.97,3.92,3.66,3.78,4.02,4.17,4.02,3.86,3.71,3.63,3.77,3.88,3.95,4.00,3.82,3.65,3.15,3.46,3.83,3.92,3.90,3.72,3.60,3.55]
TAIL_WL = [0.895,0.90,0.905,0.91,0.915,0.92,0.925,0.93,0.935,0.94,0.945,0.95,0.955,0.96,0.965,0.97,0.975,0.98,0.985,0.99,0.995,1.0,1.005,1.01,1.015,1.02]
TAIL24 = [4.62,4.45,4.60,4.40,4.58,4.35,4.55,4.32,4.52,4.30,4.50,4.25,4.48,4.22,4.45,4.20,4.42,4.15,4.45,4.10,4.40,4.12,4.42,4.05,4.48,4.20]
TAIL27 = [4.12,3.92,4.08,3.85,4.05,3.80,4.02,3.78,4.00,3.72,3.98,3.75,3.95,3.70,4.00,3.68,4.02,3.65,4.05,3.62,4.00,3.60,4.08,3.55,4.10,3.85]
TAIL31 = [3.72,3.45,3.62,3.38,3.60,3.35,3.58,3.30,3.55,3.28,3.62,3.25,3.58,3.35,3.65,3.30,3.70,3.28,3.72,3.35,3.75,3.30,3.78,3.40,3.80,3.60]

UV24 = [[0.200,3.55],[0.203,3.25],[0.206,3.70],[0.209,3.35],[0.212,3.62],[0.215,3.20],[0.218,3.58],[0.221,3.30],[0.224,3.65],[0.227,3.28],[0.230,3.55],[0.233,3.40],[0.236,3.80],[0.239,3.55],[0.242,3.90],[0.245,3.62],[0.248,3.85],[0.251,3.70],[0.254,3.98],[0.257,3.78],[0.260,3.85],[0.263,3.60],[0.266,3.45],[0.268,3.30],[0.271,3.85],[0.275,3.95],[0.28,4.10],[0.285,4.05],[0.29,4.35],[0.295,4.22],[0.30,4.42],[0.305,4.30],[0.31,4.48],[0.315,4.38],[0.32,4.55],[0.325,4.45],[0.33,4.62],[0.335,4.50],[0.34,4.68],[0.345,4.55],[0.35,4.75],[0.355,4.62],[0.36,4.80],[0.365,4.70]]
UV27 = [[0.200,3.05],[0.203,2.70],[0.206,3.20],[0.209,2.85],[0.212,3.15],[0.215,2.75],[0.218,3.10],[0.221,2.80],[0.224,3.20],[0.227,2.85],[0.230,3.05],[0.233,2.90],[0.236,3.30],[0.239,3.00],[0.242,3.35],[0.245,3.05],[0.248,3.30],[0.251,3.15],[0.254,3.40],[0.257,3.20],[0.260,3.30],[0.263,3.05],[0.266,2.90],[0.268,2.75],[0.271,3.30],[0.275,3.40],[0.28,3.55],[0.285,3.50],[0.29,3.80],[0.295,3.65],[0.30,3.85],[0.305,3.72],[0.31,3.92],[0.315,3.80],[0.32,4.00],[0.325,3.85],[0.33,4.05],[0.335,3.95],[0.34,4.10],[0.345,3.98],[0.35,4.15],[0.355,4.05],[0.36,4.25],[0.365,4.20]]
UV31 = [[0.200,2.55],[0.203,2.15],[0.206,2.70],[0.209,2.30],[0.212,2.65],[0.215,2.20],[0.218,2.60],[0.221,2.25],[0.224,2.70],[0.227,2.30],[0.230,2.55],[0.233,2.40],[0.236,2.80],[0.239,2.50],[0.242,2.85],[0.245,2.55],[0.248,2.80],[0.251,2.65],[0.254,2.90],[0.257,2.70],[0.260,2.80],[0.263,2.55],[0.266,2.35],[0.268,2.20],[0.271,2.80],[0.275,2.90],[0.28,3.05],[0.285,3.00],[0.29,3.28],[0.295,3.15],[0.30,3.35],[0.305,3.22],[0.31,3.42],[0.315,3.30],[0.32,3.50],[0.325,3.38],[0.33,3.55],[0.335,3.45],[0.34,3.60],[0.345,3.50],[0.35,3.65],[0.355,3.55],[0.36,3.72],[0.365,3.70]]
STIS8_PTS = [[0.200,2.10],[0.203,1.60],[0.206,2.25],[0.209,1.80],[0.2115,1.05],[0.213,2.20],[0.216,1.75],[0.219,2.15],[0.222,1.70],[0.225,2.25],[0.228,1.85],[0.231,2.10],[0.234,1.90],[0.237,2.35],[0.240,2.00],[0.243,2.40],[0.246,2.05],[0.249,2.35],[0.252,2.20],[0.255,2.45],[0.258,2.25],[0.261,2.30],[0.264,2.05],[0.267,1.85],[0.269,1.70],[0.272,2.30],[0.276,2.40],[0.28,2.55],[0.285,2.50],[0.29,2.75],[0.295,2.65],[0.30,2.85],[0.305,2.70],[0.31,2.90],[0.315,2.80],[0.32,2.95],[0.325,2.40],[0.33,3.00],[0.335,2.85],[0.34,3.05],[0.345,2.95],[0.35,3.10],[0.355,3.00],[0.36,3.20],[0.365,3.30],[0.37,3.15],[0.375,2.95],[0.38,2.85],[0.385,3.10],[0.39,3.30],[0.397,3.45],[0.405,3.25],[0.415,3.15],[0.425,3.30],[0.433,3.40],[0.443,3.15],[0.45,3.35]]

ALF1_UV = [[0.290,3.6],[0.292,5.6],[0.294,3.2],[0.296,4.9],[0.298,3.4],[0.300,5.7],[0.302,3.1],[0.304,5.2],[0.306,3.5],[0.308,5.5],[0.310,3.3],[0.312,4.8],[0.314,3.0],[0.316,4.6],[0.318,3.2],[0.320,4.9],[0.322,2.8],[0.324,4.4],[0.326,3.1],[0.328,4.6],[0.330,3.3],[0.332,4.2],[0.334,2.9],[0.336,4.5],[0.338,3.4],[0.340,4.3],[0.342,3.2],[0.344,4.4],[0.346,3.6],[0.348,4.2],[0.350,3.4],[0.352,4.3],[0.354,3.7],[0.356,4.1],[0.358,3.5],[0.360,4.2],[0.362,3.8],[0.364,4.1],[0.366,3.9],[0.368,4.3],[0.370,4.62]]
ALF2_UV = [[0.330,2.2],[0.332,1.2],[0.334,2.6],[0.336,0.6],[0.338,2.3],[0.340,0.0],[0.342,2.5],[0.344,1.4],[0.346,2.7],[0.348,1.0],[0.350,2.4],[0.352,1.8],[0.354,2.6],[0.356,1.3],[0.358,2.8],[0.360,1.6],[0.362,2.5],[0.364,0.4],[0.366,2.9],[0.368,1.9],[0.370,2.7],[0.372,0.8],[0.374,2.6],[0.376,2.2],[0.38,2.75],[0.385,2.65],[0.39,2.95],[0.395,3.00],[0.40,2.95],[0.405,3.05],[0.41,3.10],[0.415,3.12],[0.42,3.18],[0.425,3.25],[0.43,3.28],[0.435,3.35],[0.44,3.38],[0.445,3.50],[0.45,3.62]]

ISIS5_WL = [0.329,0.331,0.333,0.335,0.3375,0.340,0.3425,0.345,0.3475,0.350,0.3525,0.3545,0.357,0.36,0.363,0.366,0.369,0.3719,0.3757,0.3808,0.3860,0.3899,0.3953,0.4035,0.4118,0.4174,0.4318,0.4407,0.4467,0.456,0.4636,0.470,0.4813,0.4897,0.4997,0.5098,0.517,0.5313,0.5403,0.5534,0.5763,0.5842,0.5922,0.6087,0.6254,0.6471,0.665,0.6787,0.6857,0.6871,0.6904,0.7019,0.7263,0.7363,0.7593,0.7601,0.7661,0.788,0.8099,0.8209,0.8322,0.8522,0.8725,0.8815,0.8905,0.9025]
ISIS5_V = [5.80,6.08,5.85,6.10,5.90,6.12,5.92,6.15,5.95,6.18,6.00,6.12,6.05,6.22,6.10,6.25,6.15,6.25,6.14,6.04,6.19,6.27,6.37,6.35,6.33,6.37,6.39,6.29,6.33,6.52,6.61,6.52,6.49,6.45,6.49,6.41,6.39,6.57,6.54,6.51,6.43,6.41,6.45,6.41,6.35,6.45,6.39,6.33,6.31,6.17,6.31,6.31,6.30,6.33,6.29,5.22,6.29,6.32,6.28,6.20,6.23,6.25,6.30,6.27,6.21,6.19]

ISIS6_WL = [0.329,0.331,0.333,0.335,0.3375,0.340,0.3425,0.345,0.3475,0.350,0.3525,0.355,0.3575,0.360,0.3625,0.3656,0.3706,0.3783,0.384,0.3953,0.4008,0.4062,0.4150,0.4231,0.4318,0.4407,0.4467,0.456,0.4636,0.470,0.483,0.4897,0.4980,0.5081,0.517,0.5313,0.5422,0.5685,0.5802,0.5922,0.6087,0.6254,0.6471,0.665,0.6787,0.688,0.7067,0.7363,0.7593,0.7601,0.7661,0.788,0.8099,0.8237,0.8322,0.8522,0.8725,0.8905,0.9025]
ISIS6_V = [5.30,5.60,5.35,5.58,5.38,5.62,5.40,5.60,5.45,5.65,5.48,5.62,5.50,5.60,5.52,5.63,5.80,5.55,5.57,5.86,5.88,5.82,5.86,5.82,5.87,5.76,5.78,6.135,6.17,5.94,5.98,5.96,6.02,5.90,5.87,6.08,6.10,5.96,5.90,5.94,5.85,5.80,5.96,5.90,5.79,5.745,5.745,5.785,5.745,5.30,5.745,5.765,5.735,5.63,5.65,5.69,5.745,5.67,5.65]

BC3_WL = [0.3706,0.3757,0.3795,0.3821,0.3926,0.398,0.4021,0.4076,0.4174,0.4245,0.4318,0.4437,0.4498,0.456,0.4636,0.4716,0.483,0.4897,0.4963,0.5031,0.5134,0.5277,0.5459,0.5646,0.5802,0.5902,0.6004,0.6087,0.6191,0.6296,0.6493,0.665,0.6787,0.688,0.6971,0.7067,0.7213,0.7363,0.7488,0.7593,0.7601,0.7661,0.788,0.8099,0.8265,0.835,0.8493,0.8665,0.8815,0.8965,0.9089,0.9277,0.9404,0.956]
BC3_V = [5.81,5.65,5.53,5.52,5.84,5.99,5.86,5.85,5.745,5.82,5.90,5.67,5.76,6.06,6.24,5.92,6.04,5.95,6.09,5.94,5.82,6.08,6.155,6.06,5.87,6.04,5.96,5.94,5.76,5.82,6.05,5.98,5.84,5.65,5.61,5.65,5.67,5.71,5.67,5.59,5.24,5.63,5.70,5.59,5.375,5.25,5.55,5.66,5.61,5.45,5.41,5.30,5.24,5.08]

BC5_PTS = [[0.360,2.30],[0.363,2.05],[0.366,2.50],[0.369,2.15],[0.372,2.45],[0.375,2.00],[0.378,2.35],[0.381,1.90],[0.384,2.20],[0.388,2.55],[0.392,2.75],[0.397,2.85],[0.405,2.72],[0.415,2.65],[0.425,2.75],[0.433,2.83],[0.443,2.56],[0.453,2.70],[0.464,3.01],[0.475,2.90],[0.485,2.88],[0.495,2.80],[0.505,2.95],[0.515,2.85],[0.527,3.10],[0.540,3.15],[0.556,3.22],[0.565,3.12],[0.572,3.01],[0.585,3.00],[0.60,2.92],[0.615,2.84],[0.63,2.95],[0.65,3.13],[0.665,3.00],[0.68,2.85],[0.698,2.66],[0.71,2.72],[0.725,2.78],[0.745,2.85],[0.765,2.92],[0.78,2.94],[0.80,2.80],[0.814,2.62],[0.829,2.16],[0.84,2.45],[0.852,2.78],[0.875,2.81],[0.89,2.70],[0.90,2.62],[0.915,2.51]]

# ---------------- assemble ----------------
MODELS = [(M1_WL, M1_V), (M2_WL, M2_V), (M3_WL, M3_V), (M4_WL, M4_V),
          (CG2, M5_V), (CG2, M6_V), (CG2, M7_V), (CG2, M8_V), (CG2, M9_V), (CG2, M10_V),
          (CG2, M11_V), (CG2, M12_V), (CG2, M13_V), (CG2, M14_V), (CG2, M15_V)]


def unzip(pts):
    return [p[0] for p in pts], [p[1] for p in pts]


n47 = 47  # optical cluster points up to 0.89 um
OBSERVED = [
    (ISIS1_WL, ISIS1_V, 'ISIS/GMOS', 1.5), (ISIS2_WL, ISIS2_V, 'ISIS/GMOS', 1.5),
    (BC1_WL, BC1_V, 'BC/WFCCD', 1.5), (BC2_WL, BC2_V, 'BC/WFCCD', 1.5),
    (STIS1_WL, STIS1_V, 'STIS', 1.4), (STIS2_WL, STIS2_V, 'STIS', 1.4),
    (FIRE1_WL, FIRE1_V, 'FIRE', 1.4), (FIREB_WL, FIREB_V, 'FIRE', 1.4), (FIRE2_WL, FIRE2_V, 'FIRE', 1.4),
    (ISIS3_WL, ISIS3_V, 'ISIS/GMOS', 1.5), (ISIS4_WL, ISIS4_V, 'ISIS/GMOS', 1.5),
    (STIS3_WL, STIS3_V, 'STIS', 1.4), (ISIS5_WL, ISIS5_V, 'ISIS/GMOS', 1.5),
    (BC3_WL, BC3_V, 'BC/WFCCD', 1.5), (ISIS6_WL, ISIS6_V, 'ISIS/GMOS', 1.5),
    (FIRE3_WL, FIRE3_V, 'FIRE', 1.4),
    (*unzip(STIS4_PTS), 'STIS', 1.4),
    (*unzip(FIRE4_PTS), 'FIRE', 1.4), (*unzip(FIRE5_PTS), 'FIRE', 1.4),
    (*unzip(FIRE6_PTS), 'FIRE', 1.4), (*unzip(FIRE7_PTS), 'FIRE', 1.4),
    # 12-24 : ALFOSC + STIS
    (unzip(ALF1_UV)[0] + OL[:49], unzip(ALF1_UV)[1] + A24, 'ALFOSC', 1.6),
    (unzip(UV24)[0] + OL[:n47] + TAIL_WL, unzip(UV24)[1] + V24[:n47] + TAIL24, 'STIS', 1.4),
    # 12-27 : BC + STIS
    (OL[:49], V27[:49], 'BC/WFCCD', 2.2),
    (unzip(UV27)[0] + OL[:n47] + TAIL_WL, unzip(UV27)[1] + V27[:n47] + TAIL27, 'STIS', 1.4),
    # 12-31 : ALFOSC + STIS
    (unzip(ALF2_UV)[0] + OL[11:49], unzip(ALF2_UV)[1] + A31, 'ALFOSC', 1.6),
    (unzip(UV31)[0] + OL[:n47] + TAIL_WL, unzip(UV31)[1] + V31[:n47] + TAIL31, 'STIS', 1.4),
    (*unzip(STIS8_PTS), 'STIS', 1.4),
    (*unzip(BC5_PTS), 'BC/WFCCD', 1.5),
]

# ---------------- styles ----------------
COLORS = {'STIS': '#0000ff', 'FIRE': '#ff0000', 'BC/WFCCD': '#00ee00',
          'ALFOSC': '#ff8c00', 'ISIS/GMOS': '#000000'}
GRAY = '#d4d4d4'
FONT = 'Liberation Sans, Arial, Helvetica, sans-serif'

W, H = 1367, 1831
ML, MR, MT, MB = 101, 27, 46, 76
PW = W - ML - MR
PH = H - MT - MB

fig = go.Figure()
for wl, v in MODELS:
    fig.add_trace(go.Scatter(x=wl, y=v, mode='lines',
                             line=dict(color=GRAY, width=1.6, shape='spline', smoothing=0.6),
                             showlegend=False, hoverinfo='skip'))
for wl, v, inst, lw in OBSERVED:
    fig.add_trace(go.Scatter(x=wl, y=v, mode='lines', line=dict(color=COLORS[inst], width=lw),
                             showlegend=False, hoverinfo='skip'))
# invisible trace that carries the top axis
fig.add_trace(go.Scatter(x=[X_TICKS[0]], y=[0], xaxis='x2', mode='markers',
                         marker=dict(opacity=0), showlegend=False, hoverinfo='skip'))

xr = [math.log10(0.2), math.log10(2.5)]
common_x = dict(type='log', range=xr, tickvals=X_TICKS, ticktext=X_TICKTEXT,
                ticks='inside', ticklen=34, tickwidth=1.5, tickcolor='black',
                showline=True, linecolor='black', linewidth=2, showgrid=False, zeroline=False,
                tickfont=dict(family=FONT, size=28, color='black'))
fig.update_layout(
    width=W, height=H, margin=dict(l=ML, r=MR, t=MT, b=MB),
    paper_bgcolor='white', plot_bgcolor='white',
    font=dict(family=FONT, color='black'),
    xaxis=dict(**common_x, ticklabelstandoff=0),
    xaxis2=dict(**common_x, overlaying='x', side='top', matches='x', ticklabelstandoff=0),
    yaxis=dict(range=[0, 10], tickvals=Y_TICKS, ticks='inside', ticklen=24, tickwidth=1.5,
               tickcolor='black', showline=True, linecolor='black', linewidth=2, mirror='ticks',
               showgrid=False, zeroline=False, showticklabels=False,
               minor=dict(dtick=0.5, ticklen=11, ticks='inside', tickcolor='black', tickwidth=1.5,
                          showgrid=False)),
)

ann = []
# y tick labels: end labels are nudged inward as in the original figure
Y_LABEL_SHIFT = {0: 8, 10: -7}
for yv, yt in zip(Y_TICKS, Y_TICKTEXT):
    ann.append(dict(x=0, y=yv, xref='paper', yref='y', text=yt, showarrow=False,
                    xanchor='right', yanchor='middle', xshift=-7, yshift=Y_LABEL_SHIFT.get(yv, 0),
                    font=dict(family=FONT, size=28, color='black')))
for d, y in zip(DATES, DATE_Y):
    ann.append(dict(x=math.log10(DATE_X), y=y, xref='x', yref='y', text=d, showarrow=False,
                    xanchor='left', yanchor='middle', font=dict(family=FONT, size=27, color='black')))
ann.append(dict(x=math.log10(2.247), y=9.674, xref='x', yref='y', text='SN 2011iv', showarrow=False,
                xanchor='right', yanchor='middle', font=dict(family=FONT, size=33, color='black')))
ann.append(dict(x=0.5, y=(1755 - 1815) / PH, xref='paper', yref='paper',
                text='observed wavelength (\u03bcm)', showarrow=False, xanchor='center', yanchor='middle',
                font=dict(family=FONT, size=27, color='black')))
ann.append(dict(x=(33 - ML) / PW, y=0.5, xref='paper', yref='paper', textangle=-90,
                text='log<sub>10</sub>(flux) + constant', showarrow=False, xanchor='center',
                yanchor='middle', font=dict(family=FONT, size=27, color='black')))

shapes = []
leg_rows = [1595, 1623, 1651, 1679, 1707]
for inst, yy in zip(INSTRUMENTS, leg_rows):
    py = (1755 - yy) / PH
    shapes.append(dict(type='line', xref='paper', yref='paper', x0=(145 - ML) / PW, x1=(250 - ML) / PW,
                       y0=py, y1=py, line=dict(color=COLORS[inst], width=1.5)))
    ann.append(dict(x=(268 - ML) / PW, y=py, xref='paper', yref='paper', text=inst, showarrow=False,
                    xanchor='left', yanchor='middle', font=dict(family=FONT, size=27, color='black')))

fig.update_layout(annotations=ann, shapes=shapes)
fig.write_html('out.html')
